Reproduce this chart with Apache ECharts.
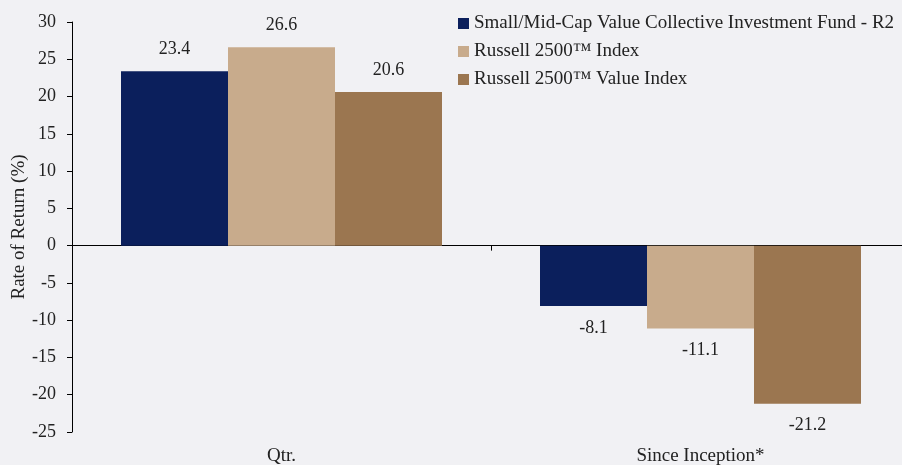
<!DOCTYPE html>
<html>
<head>
<meta charset="utf-8">
<script src="https://cdn.jsdelivr.net/npm/echarts@6/dist/echarts.min.js"></script>
<style>
  html, body { margin: 0; padding: 0; background: #f1f1f4; overflow: hidden; }
  /* the plot runs a little past the right edge in the original */
  #chart { width: 912px; height: 465px; }
</style>
</head>
<body>
<div id="chart"></div>
<script>
// categories and series
var categories = ["Qtr.", "Since Inception*"];
var seriesNames = [
    "Small/Mid-Cap Value Collective Investment Fund - R2",
    "Russell 2500™ Index",
    "Russell 2500™ Value Index"
];
var fundValues = [23.4, -8.1];
var r2500Values = [26.6, -11.1];
var r2500ValueValues = [20.6, -21.2];
var colors = ["#0b1f5c", "#c8ab8c", "#9b7650"];

var chart = echarts.init(document.getElementById("chart"));
var font = "'Liberation Serif', 'DejaVu Serif', serif";

function makeSeries(name, data, color) {
    return {
        name: name,
        type: "bar",
        // negative bars get their label below the bar
        data: data.map(function (v) {
            return v < 0 ? { value: v, label: { position: "bottom" } } : v;
        }),
        barGap: 0,
        barWidth: 107,
        itemStyle: { color: color },
        label: {
            show: true,
            position: "top",
            distance: 13,
            color: "#222",
            fontFamily: font,
            fontSize: 18,
            formatter: function (p) { return p.value.toFixed(1); }
        }
    };
}

var series = [
    makeSeries(seriesNames[0], fundValues, colors[0]),
    makeSeries(seriesNames[1], r2500Values, colors[1]),
    makeSeries(seriesNames[2], r2500ValueValues, colors[2])
];

chart.setOption({
    backgroundColor: "#f1f1f4",
    animation: false,
    textStyle: { fontFamily: font },
    legend: {
        orient: "vertical",
        left: 453,
        top: 9,
        itemWidth: 11,
        itemHeight: 11,
        itemGap: 9,
        icon: "rect",
        textStyle: { fontFamily: font, fontSize: 19, color: "#222" },
        data: seriesNames
    },
    grid: { left: 72, top: 22, bottom: 33, right: 2, outerBoundsMode: "none" },
    xAxis: [
        {
            type: "category",
            data: categories,
            axisLine: { onZero: true, lineStyle: { color: "#000", width: 1 } },
            axisTick: { show: true, inside: false, length: 5, lineStyle: { color: "#000" } },
            axisLabel: { show: false }
        },
        {
            type: "category",
            data: categories,
            position: "bottom",
            axisLine: { show: false, onZero: false },
            axisTick: { show: false },
            axisLabel: { color: "#222", fontFamily: font, fontSize: 19, margin: 15 }
        }
    ],
    yAxis: {
        type: "value",
        min: -25,
        max: 30,
        interval: 5,
        name: "Rate of Return (%)",
        nameLocation: "middle",
        nameGap: 43,
        nameMoveOverlap: false,
        nameTextStyle: { fontFamily: font, fontSize: 19, color: "#222" },
        axisLine: { show: true, lineStyle: { color: "#000" } },
        axisTick: { show: true, length: 5, lineStyle: { color: "#000" } },
        axisLabel: { color: "#222", fontFamily: font, fontSize: 18, margin: 16 },
        splitLine: { show: false }
    },
    series: series
});
</script>
</body>
</html>
